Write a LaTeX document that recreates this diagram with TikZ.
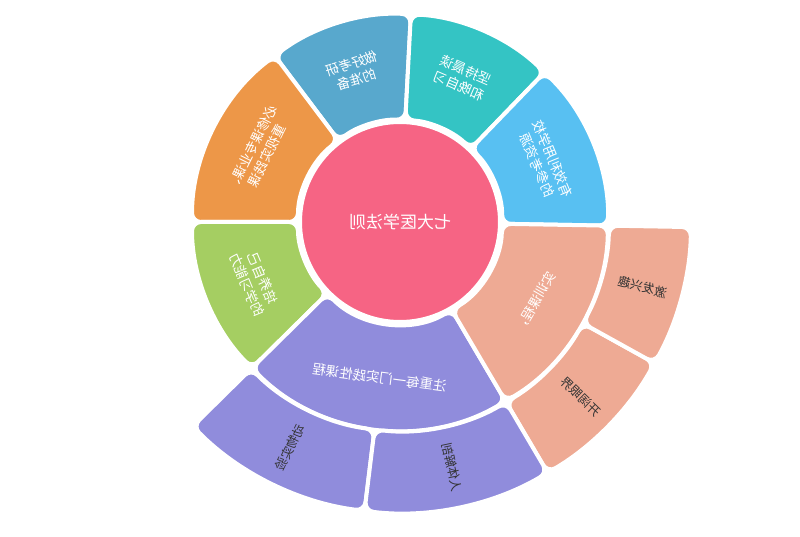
\documentclass[tikz,border=0pt]{standalone}
\usepackage{fontspec}
\setmainfont{Noto Sans CJK SC}
\definecolor{cPink}{HTML}{F66484}
\definecolor{cOrange}{HTML}{ED9748}
\definecolor{cBlue}{HTML}{58A8CD}
\definecolor{cTeal}{HTML}{34C4C4}
\definecolor{cSky}{HTML}{58C0F2}
\definecolor{cGreen}{HTML}{A5CE62}
\definecolor{cPurple}{HTML}{908CDC}
\definecolor{cSalmon}{HTML}{EEAA94}
\newcommand\sectorshape[5]{%
  \pgfmathsetmacro\rmid{(#4+#5)/2}%
  \fill[#1, draw=white, line width=4pt, rounded corners=9pt, line join=round]
    (#2:\rmid) -- (#2:#5) arc[start angle=#2, end angle=#3, radius=#5]
    -- (#3:#4) arc[start angle=#3, end angle=#2, radius=#4] -- cycle;}
\begin{document}
\begin{tikzpicture}[x=1pt,y=1pt,
  intext/.style={text=white, font=\fontsize{13.5}{17}\selectfont, align=center, inner sep=0pt, xscale=-1},
  outtext/.style={text=black!80, font=\fontsize{12.5}{15}\selectfont, align=center, inner sep=0pt, xscale=-1},
  centertext/.style={text=white, font=\fontsize{17}{21}\selectfont, inner sep=0pt, xscale=-1}]
\useasboundingbox (-400,-315) rectangle (400,222);
% centre
\fill[cPink, draw=white, line width=4pt] (0,0) circle[radius=100];
% inner ring
\sectorshape{cBlue}{87}{127}{102}{208}
\sectorshape{cTeal}{46}{87}{102}{208}
\sectorshape{cSky}{-1}{46}{102}{208}
\sectorshape{cOrange}{127}{180}{102}{208}
\sectorshape{cGreen}{180}{224.6}{102}{208}
\sectorshape{cPurple}{224.6}{300.5}{102}{208}
\sectorshape{cSalmon}{300.5}{359}{102}{208}
% outer ring
\sectorshape{cSalmon}{300.5}{331}{209}{291}
\sectorshape{cSalmon}{331}{359}{209}{291}
\sectorshape{cPurple}{224.6}{263}{209}{291}
\sectorshape{cPurple}{263}{300.5}{209}{291}
% labels
\node[centertext] (root) at (0,0) {七大医学法则};
\node[rotate=17, intext] (kaoyan) at (107:157) {做好考研\\的准备};
\node[rotate=-23.5, intext] (chendu) at (66.5:157) {坚持晨读\\和晚自习};
\node[rotate=-67.5, intext] (ziliao) at (22.5:157) {有效利用学校\\的参考资源};
\node[rotate=63.5, intext] (bixiu) at (153.5:157) {必修课专业课、\\重视实践课};
\node[rotate=292.5, intext] (nengli) at (202.3:157) {培养自己\\的学习能力};
\node[rotate=352.5, intext] (shijian) at (262.5:157) {注重每一门实践性课程};
\node[rotate=59.5, intext] (shixun) at (329.5:157) {实训课程，};
\node[rotate=345, outtext] (xingqu) at (345:251) {激发兴趣};
\node[rotate=316, outtext] (yanjie) at (316:251) {开阔眼界};
\node[rotate=64, outtext] (dongwu) at (244:251) {动物实验};
\node[rotate=282, outtext] (jiepou) at (282:251) {人体解剖};
\end{tikzpicture}
\end{document}
